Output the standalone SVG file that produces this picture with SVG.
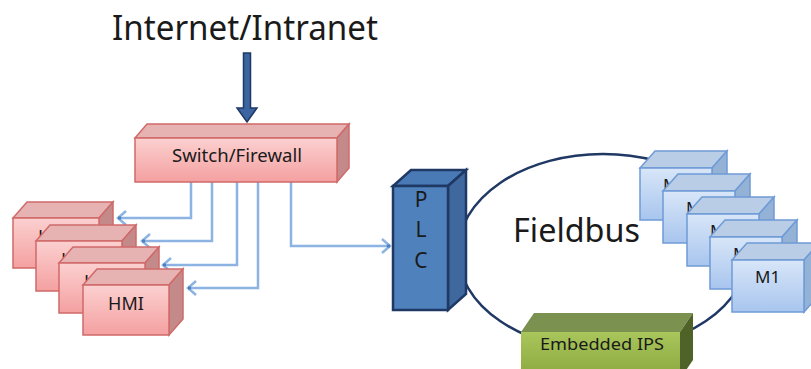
<svg xmlns="http://www.w3.org/2000/svg" width="811" height="369" viewBox="0 0 811 369">
  <defs>
    <linearGradient id="gPink" x1="0" y1="0" x2="0" y2="1">
      <stop offset="0" stop-color="#fcd0d0"/>
      <stop offset="1" stop-color="#f4a0a0"/>
    </linearGradient>
    <linearGradient id="gBlue" x1="0" y1="0" x2="0" y2="1">
      <stop offset="0" stop-color="#d8e6f8"/>
      <stop offset="1" stop-color="#a8c5ee"/>
    </linearGradient>
    <linearGradient id="gGreen" x1="0" y1="0" x2="0" y2="1">
      <stop offset="0" stop-color="#a9c65c"/>
      <stop offset="1" stop-color="#86a53a"/>
    </linearGradient>
    <!-- open chevron head, tip at the line end -->
    <marker id="chev" markerUnits="userSpaceOnUse" markerWidth="14" markerHeight="20" viewBox="-11 -10 14 20" refX="0" refY="0" orient="auto">
      <path d="M-8,-7 L0,0 L-8,7" fill="none" stroke="#8db3e2" stroke-width="2.5"/>
      <rect x="-3" y="-1.5" width="3" height="3" fill="#4f81bd"/>
    </marker>
  </defs>
  <style>
    text { font-family: "Noto Sans", "Liberation Sans", Arial, sans-serif; fill: #1a1a1a; }
    .pink .front { fill: url(#gPink); stroke: #d06a6a; stroke-width: 1.5; }
    .pink .top { fill: #e6b2b2; stroke: #d06a6a; stroke-width: 1.5; }
    .pink .side { fill: #c48a8a; stroke: #d06a6a; stroke-width: 1.5; }
    .blue .front { fill: url(#gBlue); stroke: #6f9bd6; stroke-width: 1.5; }
    .blue .top { fill: #b9cde6; stroke: #6f9bd6; stroke-width: 1.5; }
    .blue .side { fill: #94b1d6; stroke: #6f9bd6; stroke-width: 1.5; }
    .plc .front { fill: #4f81bd; stroke: #1f3864; stroke-width: 2.5; }
    .plc .top { fill: #4a7ab6; stroke: #1f3864; stroke-width: 2.5; }
    .plc .side { fill: #3e689e; stroke: #1f3864; stroke-width: 2.5; }
    .green .front { fill: url(#gGreen); }
    .green .top { fill: #7a9150; }
    .green .side { fill: #4f6228; }
    .wire { fill: none; stroke: #8db3e2; stroke-width: 2.5; }
    .lbl { font-size: 18px; text-anchor: middle; }
  </style>

  <!-- Fieldbus ring, drawn first so devices sit on top of it -->
  <g id="fieldbus">
    <ellipse cx="603" cy="252" rx="145" ry="98" fill="none" stroke="#1f3864" stroke-width="2.5"/>
    <text x="513" y="242" font-size="32" textLength="127" lengthAdjust="spacingAndGlyphs">Fieldbus</text>
  </g>

  <!-- Uplink -->
  <g id="internet">
    <text x="112" y="40" font-size="35" textLength="266" lengthAdjust="spacingAndGlyphs">Internet/Intranet</text>
    <path d="M243.5,53 H250.5 V108 H257 L247,122 L237,108 H243.5 Z" fill="#3b64a0" stroke="#1f3864" stroke-width="1.5"/>
  </g>

  <!-- Switch links -->
  <g id="connectors">
    <path class="wire" d="M191,182 V218 H118" marker-end="url(#chev)"/>
    <path class="wire" d="M212,182 V241 H142" marker-end="url(#chev)"/>
    <path class="wire" d="M237,182 V265 H163" marker-end="url(#chev)"/>
    <path class="wire" d="M258,182 V288 H188" marker-end="url(#chev)"/>
    <path class="wire" d="M291,182 V246 H390" marker-end="url(#chev)"/>
  </g>

  <g id="switch" class="pink">
    <polygon class="top" points="135,138 337,138 349,124 147,124"/>
    <polygon class="side" points="337,138 349,124 349,168 337,182"/>
    <rect class="front" x="135" y="138" width="202" height="44"/>
    <text x="237" y="162" font-size="18" text-anchor="middle" textLength="130" lengthAdjust="spacingAndGlyphs">Switch/Firewall</text>
  </g>

  <!-- HMI stack, back to front -->
  <g id="hmi4" class="pink">
    <polygon class="top" points="13,218 99,218 113,202 27,202"/>
    <polygon class="side" points="99,218 113,202 113,252 99,268"/>
    <rect class="front" x="13" y="218" width="86" height="50"/>
    <text class="lbl" x="56" y="243">HMI</text>
  </g>
  <g id="hmi3" class="pink">
    <polygon class="top" points="36,241 122,241 136,225 50,225"/>
    <polygon class="side" points="122,241 136,225 136,275 122,291"/>
    <rect class="front" x="36" y="241" width="86" height="50"/>
    <text class="lbl" x="79" y="266">HMI</text>
  </g>
  <g id="hmi2" class="pink">
    <polygon class="top" points="59,263 145,263 159,247 73,247"/>
    <polygon class="side" points="145,263 159,247 159,297 145,313"/>
    <rect class="front" x="59" y="263" width="86" height="50"/>
    <text class="lbl" x="102" y="288">HMI</text>
  </g>
  <g id="hmi1" class="pink">
    <polygon class="top" points="83,285 169,285 183,269 97,269"/>
    <polygon class="side" points="169,285 183,269 183,319 169,335"/>
    <rect class="front" x="83" y="285" width="86" height="50"/>
    <text class="lbl" x="126" y="310">HMI</text>
  </g>

  <g id="plc" class="plc">
    <polygon class="top" points="393,186 448,186 466,170 411,170"/>
    <polygon class="side" points="448,186 466,170 466,294 448,310"/>
    <rect class="front" x="393" y="186" width="55" height="124"/>
    <text x="421" y="207" font-size="21" text-anchor="middle">P</text>
    <text x="421" y="237" font-size="21" text-anchor="middle">L</text>
    <text x="421" y="268" font-size="21" text-anchor="middle">C</text>
  </g>

  <g id="ips" class="green">
    <polygon class="top" points="521,332 680,332 693,313 534,313"/>
    <polygon class="side" points="680,332 693,313 693,360 680,379"/>
    <rect class="front" x="521" y="332" width="159" height="50"/>
    <text x="602" y="350" font-size="17" text-anchor="middle" textLength="124" lengthAdjust="spacingAndGlyphs">Embedded IPS</text>
  </g>

  <!-- Field devices, back to front -->
  <g id="m5" class="blue">
    <polygon class="top" points="640,168 712,168 727,151 655,151"/>
    <polygon class="side" points="712,168 727,151 727,203 712,220"/>
    <rect class="front" x="640" y="168" width="72" height="52"/>
    <text x="663" y="191" font-size="17">M</text>
  </g>
  <g id="m4" class="blue">
    <polygon class="top" points="663,191 735,191 750,174 678,174"/>
    <polygon class="side" points="735,191 750,174 750,226 735,243"/>
    <rect class="front" x="663" y="191" width="72" height="52"/>
    <text x="686" y="214" font-size="17">M</text>
  </g>
  <g id="m3" class="blue">
    <polygon class="top" points="687,214 759,214 774,197 702,197"/>
    <polygon class="side" points="759,214 774,197 774,249 759,266"/>
    <rect class="front" x="687" y="214" width="72" height="52"/>
    <text x="710" y="237" font-size="17">M</text>
  </g>
  <g id="m2" class="blue">
    <polygon class="top" points="710,237 782,237 797,220 725,220"/>
    <polygon class="side" points="782,237 797,220 797,272 782,289"/>
    <rect class="front" x="710" y="237" width="72" height="52"/>
    <text x="733" y="260" font-size="17">M</text>
  </g>
  <g id="m1" class="blue">
    <polygon class="top" points="732,260 804,260 819,243 747,243"/>
    <polygon class="side" points="804,260 819,243 819,295 804,312"/>
    <rect class="front" x="732" y="260" width="72" height="52"/>
    <text x="755" y="283" font-size="17">M1</text>
  </g>
</svg>
